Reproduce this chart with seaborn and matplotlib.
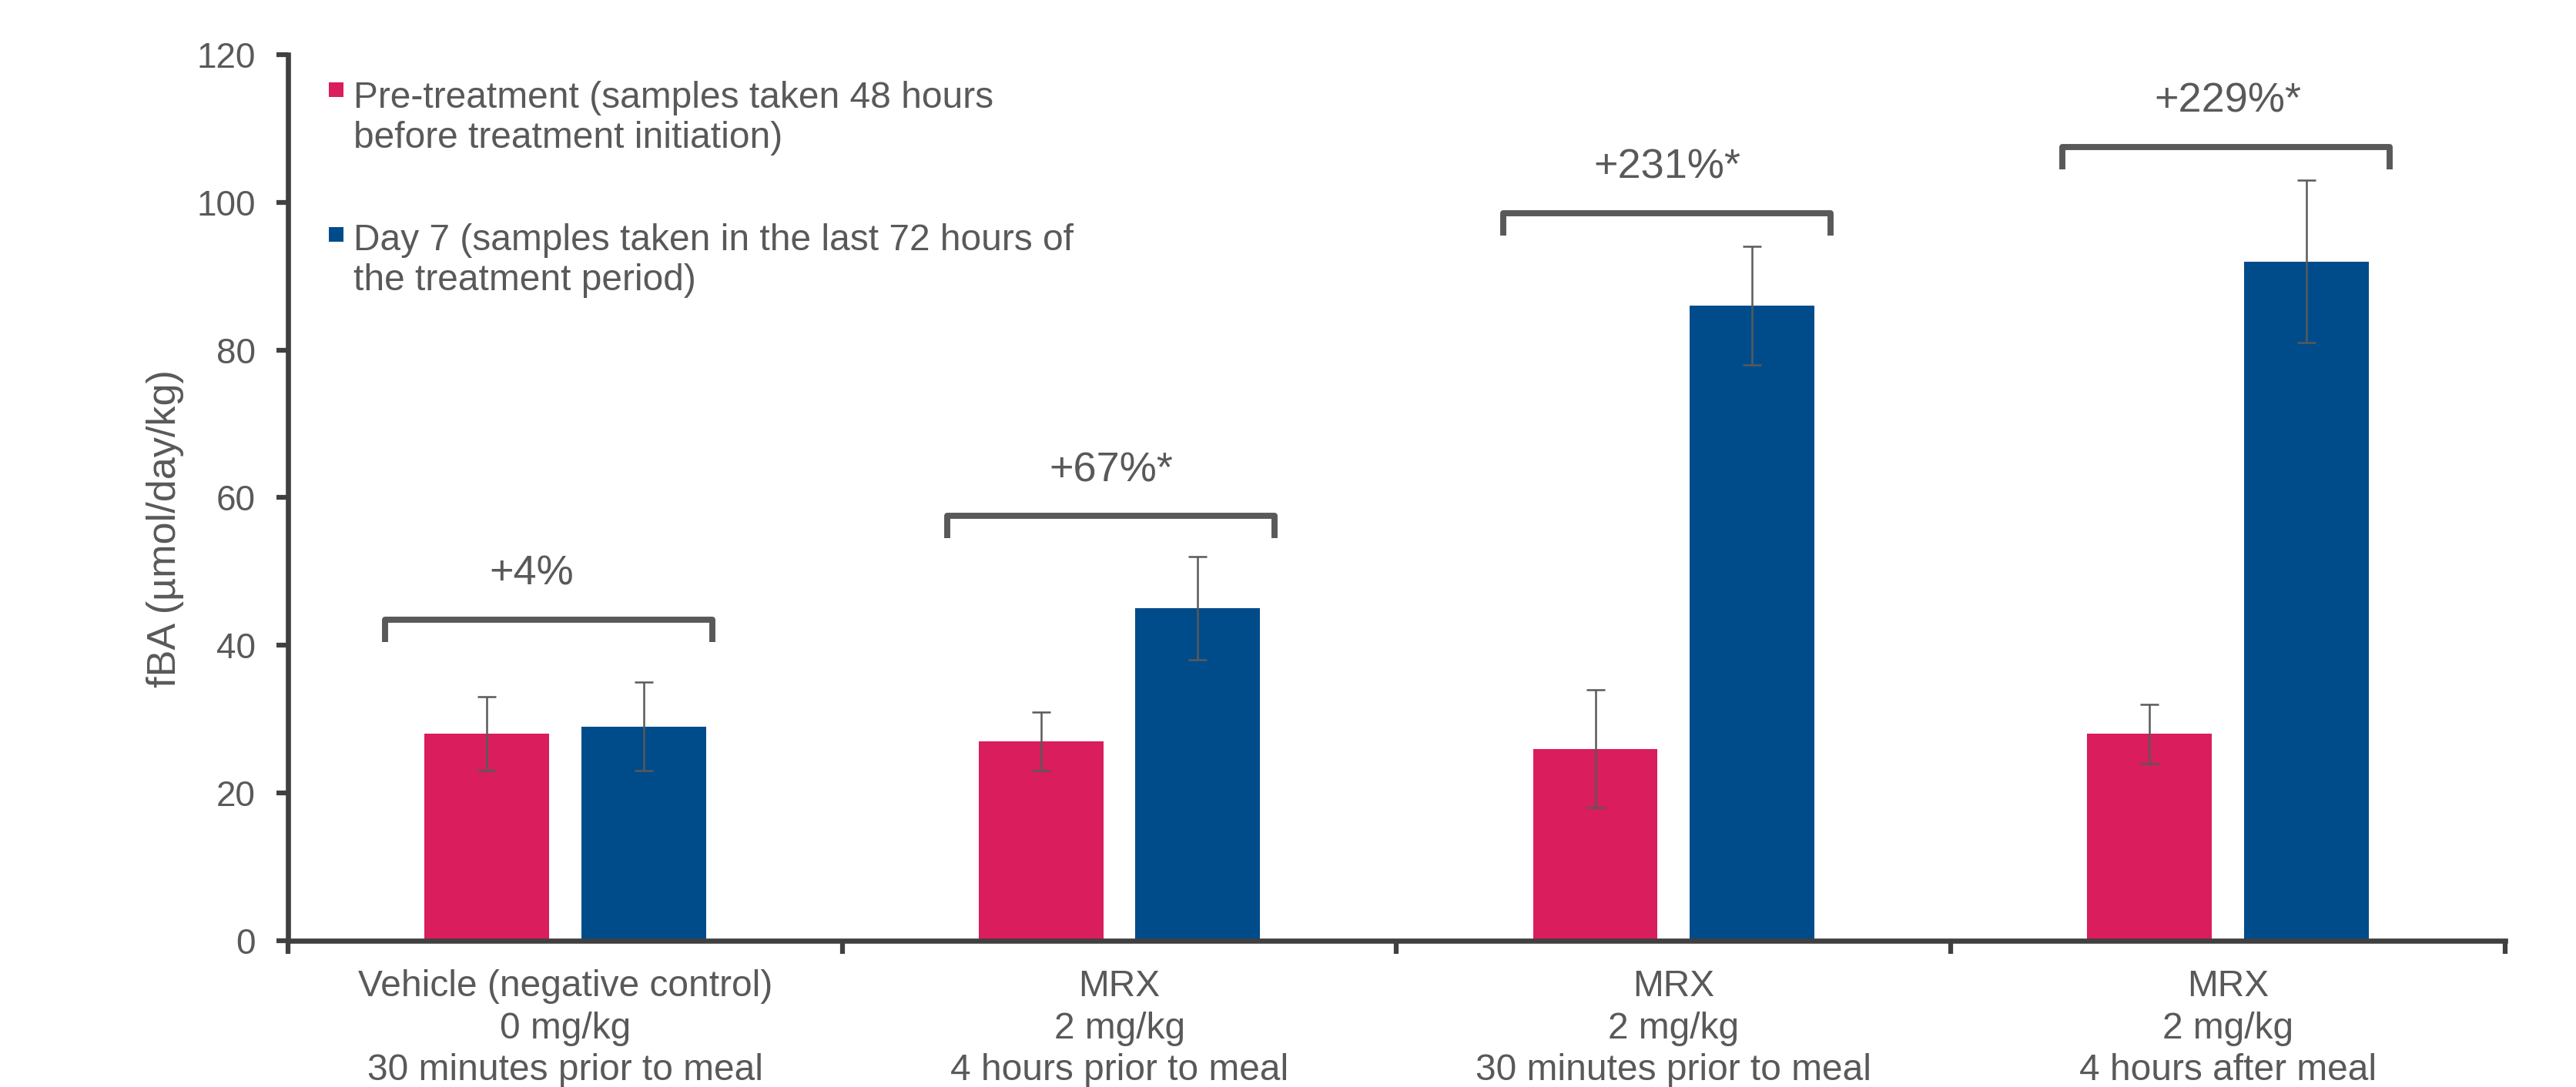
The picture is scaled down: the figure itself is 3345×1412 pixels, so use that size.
import numpy as np
import pandas as pd
import matplotlib
matplotlib.use("Agg")
import matplotlib.pyplot as plt
import seaborn as sns
from matplotlib.patches import Rectangle

# Chart data
groups = [
    "Vehicle (negative control)\n0 mg/kg\n30 minutes prior to meal",
    "MRX\n2 mg/kg\n4 hours prior to meal",
    "MRX\n2 mg/kg\n30 minutes prior to meal",
    "MRX\n2 mg/kg\n4 hours after meal",
]
timepoints = [
    "Pre-treatment (samples taken 48 hours\nbefore treatment initiation)",
    "Day 7 (samples taken in the last 72 hours of\nthe treatment period)",
]
pre_values = [28, 27, 26, 28]
pre_errors = [5, 4, 8, 4]
day7_values = [29, 45, 86, 92]
day7_errors = [6, 7, 8, 11]
change_labels = ["+4%", "+67%*", "+231%*", "+229%*"]
bracket_levels = [43.5, 57.5, 98.5, 107.5]

# small horizontal nudges of the brackets / labels (layout only)
bracket_shift = [-0.03, -0.015, -0.012, -0.004]
label_shift = [-0.06, -0.015, -0.012, 0.0]

pink = "#DA1D5C"
blue = "#004C8A"
grey = "#595959"
axis_color = "#404040"

df = pd.DataFrame({
    "group": groups * 2,
    "timepoint": [timepoints[0]] * len(groups) + [timepoints[1]] * len(groups),
    "fBA": pre_values + day7_values,
})

sns.set_style("ticks")
plt.rcParams["font.family"] = ["Liberation Sans", "DejaVu Sans"]

fig, ax = plt.subplots(figsize=(11.15, 4.7067), dpi=300)
fig.subplots_adjust(left=0.1118, right=0.9725, bottom=0.1346, top=0.9497)

sns.barplot(data=df, x="group", y="fBA", hue="timepoint", order=groups,
            hue_order=timepoints, palette=[pink, blue], width=0.566, gap=0.205,
            errorbar=None, legend=False, linewidth=0, saturation=1, ax=ax)

# error bars on top of each bar
for cont, errs in zip(ax.containers, [pre_errors, day7_errors]):
    xs = [b.get_x() + b.get_width() / 2 for b in cont]
    ys = [b.get_height() for b in cont]
    ax.errorbar(xs, ys, yerr=errs, fmt="none", ecolor=grey, elinewidth=0.6,
                capsize=2.8, capthick=0.6, zorder=3)

# brackets with % change
for i, (lvl, lab) in enumerate(zip(bracket_levels, change_labels)):
    c = i + bracket_shift[i]
    x0, x1 = c - 0.295, c + 0.295
    ax.plot([x0, x0, x1, x1], [lvl - 3, lvl, lvl, lvl - 3], color=grey, lw=1.9,
            solid_joinstyle="round", solid_capstyle="butt", clip_on=False)
    ax.text(i + label_shift[i], lvl + 6.2, lab, ha="center", va="center",
            fontsize=13, color=grey)

ax.set_xlim(-0.5, 3.5)
ax.set_ylim(0, 120)
ax.set_yticks(range(0, 121, 20))
ax.set_xticks(np.arange(-0.5, 4, 1), minor=True)
ax.tick_params(axis="x", which="major", length=0, pad=9, labelsize=11.5, labelcolor=grey)
ax.tick_params(axis="x", which="minor", length=4, width=1.5, color=axis_color, direction="out")
ax.tick_params(axis="y", length=3.6, width=1.5, color=axis_color, pad=6.5,
               labelsize=11, labelcolor=grey)
for lbl in ax.get_xticklabels():
    lbl.set_linespacing(1.27)
ax.set_xlabel("")
ax.set_ylabel("fBA (µmol/day/kg)", fontsize=12.5, color=grey)
ax.yaxis.set_label_coords(-0.047, 0.465)

for s in ["top", "right"]:
    ax.spines[s].set_visible(False)
for s in ["left", "bottom"]:
    ax.spines[s].set_color(axis_color)
    ax.spines[s].set_linewidth(1.6)

# legend, drawn by hand so the squares sit on the first line
legend_rows = [(0.8945, 0.9522, pink), (0.734, 0.789, blue)]
for label, (ty, sy, col) in zip(timepoints, legend_rows):
    ax.add_patch(Rectangle((0.0184, sy), 0.0066, 0.0165, transform=ax.transAxes,
                           facecolor=col, edgecolor="none", clip_on=False))
    ax.text(0.0295, ty, label, transform=ax.transAxes, ha="left", va="baseline",
            fontsize=11.5, color=grey)

fig.savefig("out.png", dpi=300)
